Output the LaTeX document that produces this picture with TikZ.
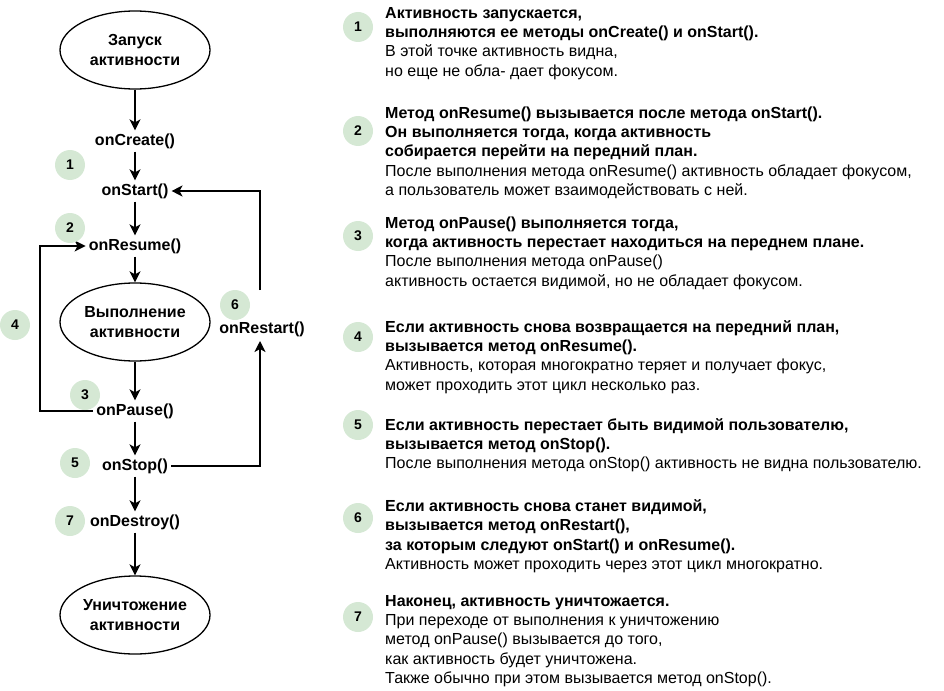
\documentclass[tikz,border=0pt]{standalone}
\usepackage{fontspec}
\setmainfont{Liberation Sans}
\usepackage{tikz}
\usetikzlibrary{arrows.meta,shapes.geometric}
\definecolor{stepgreen}{HTML}{D5E8D4}

\tikzset{
  state/.style={ellipse, draw, line width=1.3pt, minimum width=150pt, minimum height=78pt, inner sep=0pt, align=center, font=\fontsize{16}{20}\selectfont\bfseries},
  method/.style={font=\fontsize{16}{19}\selectfont\bfseries, inner sep=3pt},
  num/.style={circle, fill=stepgreen, minimum size=30pt, inner sep=0pt, font=\fontsize{14}{16}\selectfont\bfseries},
  flow/.style={-{Stealth[length=11pt,width=11pt,inset=3pt]}, line width=1.5pt},
  note/.style={anchor=north west, align=left, inner sep=0pt, font=\fontsize{16}{19.3}\selectfont, execute at begin node=\strut},
}

\begin{document}
\begin{tikzpicture}[x=1pt,y=-1pt]
\useasboundingbox (0,0) rectangle (944,690);

% Left: life cycle
\node[state] (launch) at (135,50) {Запуск\\активности};
\node[method] (create) at (135,141) {onCreate()};
\node[method] (start) at (135,191) {onStart()};
\node[method] (resume) at (135,246) {onResume()};
\node[state] (run) at (135,322) {Выполнение\\активности};
\node[method] (pause) at (135,411) {onPause()};
\node[method] (stop) at (135,466) {onStop()};
\node[method] (destroy) at (135,522) {onDestroy()};
\node[state] (finish) at (135,615) {Уничтожение\\активности};
\node[method] (restart) at (262,329) {onRestart()};

\coordinate (pauseleft) at (40,411);
\coordinate (resumeleft) at (40,246);
\coordinate (stopright) at (260,466);
\coordinate (restarttop) at (260,290);
\coordinate (restartlow) at (260,341);

\draw[flow] (launch) -- (create);
\draw[flow] (create) -- (start);
\draw[flow] (start) -- (resume);
\draw[flow] (resume) -- (run);
\draw[flow] (run) -- (pause);
\draw[flow] (pause) -- (stop);
\draw[flow] (stop) -- (destroy);
\draw[flow] (destroy) -- (finish);
\draw[flow] (pause.west) -- (pauseleft) -- (resumeleft) -- (resume.west);
\draw[flow] (stop.east) -- (stopright) -- (restartlow);
\draw[flow] (restarttop) |- (start.east);

\node[num] (l1) at (70,165) {1};
\node[num] (l2) at (70,228) {2};
\node[num] (l4) at (15,325) {4};
\node[num] (l6) at (235,305) {6};
\node[num] (l3) at (85,395) {3};
\node[num] (l5) at (75,463) {5};
\node[num] (l7) at (70,521) {7};

% Right: notes
\node[num] (r1) at (358,27) {1};
\node[note] (t1) at (385,7) {\textbf{Активность запускается,}\\
  \textbf{выполняются ее методы onCreate() и onStart().}\\
  В этой точке активность видна,\\
  но еще не обла- дает фокусом.};

\node[num] (r2) at (358,131) {2};
\node[note] (t2) at (385,106.5) {\textbf{Метод onResume() вызывается после метода onStart().}\\
  \textbf{Он выполняется тогда, когда активность}\\
  \textbf{собирается перейти на передний план.}\\
  После выполнения метода onResume() активность обладает фокусом,\\
  а пользователь может взаимодействовать с ней.};

\node[num] (r3) at (358,236) {3};
\node[note] (t3) at (385,216.5) {\textbf{Метод onPause() выполняется тогда,}\\
  \textbf{когда активность перестает находиться на переднем плане.}\\
  После выполнения метода onPause()\\
  активность остается видимой, но не обладает фокусом.};

\node[num] (r4) at (358,337) {4};
\node[note] (t4) at (385,320) {\textbf{Если активность снова возвращается на передний план,}\\
  \textbf{вызывается метод onResume().}\\
  Активность, которая многократно теряет и получает фокус,\\
  может проходить этот цикл несколько раз.};

\node[num] (r5) at (358,425) {5};
\node[note] (t5) at (385,418) {\textbf{Если активность перестает быть видимой пользователю,}\\
  \textbf{вызывается метод onStop().}\\
  После выполнения метода onStop() активность не видна пользователю.};

\node[num] (r6) at (358,518) {6};
\node[note] (t6) at (385,499.5) {\textbf{Если активность снова станет видимой,}\\
  \textbf{вызывается метод onRestart(),}\\
  \textbf{за которым следуют onStart() и onResume().}\\
  Активность может проходить через этот цикл многократно.};

\node[num] (r7) at (358,617) {7};
\node[note] (t7) at (385,595) {\textbf{Наконец, активность уничтожается.}\\
  При переходе от выполнения к уничтожению\\
  метод onPause() вызывается до того,\\
  как активность будет уничтожена.\\
  Также обычно при этом вызывается метод onStop().};
\end{tikzpicture}
\end{document}
